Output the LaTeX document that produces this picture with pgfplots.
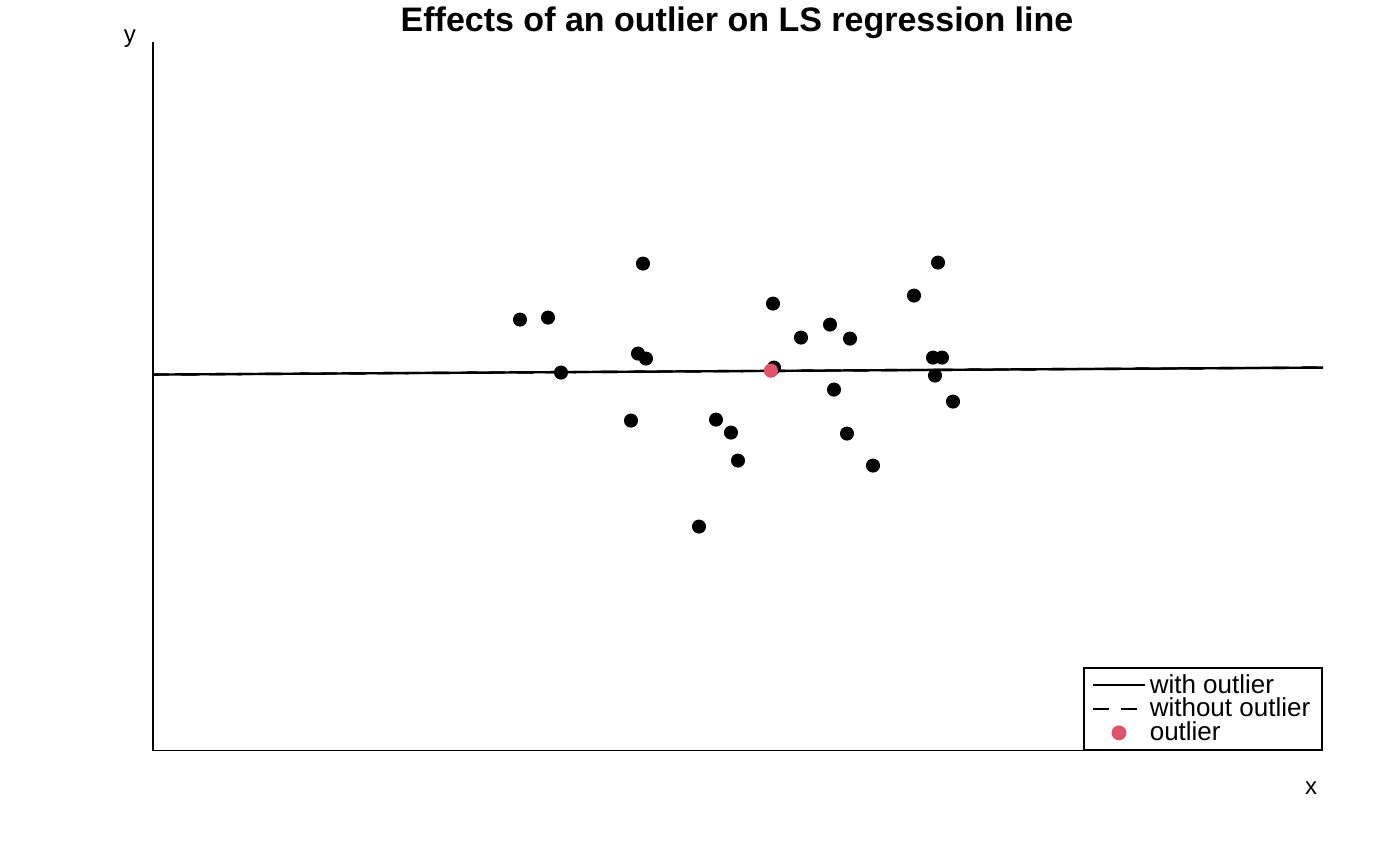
\documentclass[border=0pt]{standalone}
\usepackage{pgfplots}
\pgfplotsset{compat=1.18}
\usepackage{fontspec}
\setmainfont{Liberation Sans}
\pgfplotsset{dotlegend/.style={legend image code/.code={\fill[#1] (0.45cm,0cm) circle (3.3pt);}},
 linelegend/.style={legend image code/.code={\draw[#1] (0cm,0cm) -- (0.9cm,0cm);}}}
\begin{document}
\begin{tikzpicture}
\begin{axis}[scale only axis, width=585pt, height=354.5pt,
 xmin=153, xmax=1323, ymin=117, ymax=826, clip=false,
 axis x line=bottom, axis y line=left, axis line style={-, thick},
 xtick=\empty, ytick=\empty,
 legend style={at={(axis cs:1323,117)}, anchor=south east, draw=black, thick, font=\fontsize{13}{13}\selectfont, row sep=-3pt, inner xsep=4pt, inner ysep=1pt, legend cell align=left}]
\path (axis cs:0,0) rectangle (axis cs:1400,866);
\addplot[black, very thick, linelegend] coordinates {(153,493) (1323,500)};
\addlegendentry{with outlier}
\addplot[black, very thick, dash pattern=on 8pt off 6pt, linelegend] coordinates {(153,493) (1323,500)};
\addlegendentry{without outlier}
\addplot[only marks, mark=*, mark size=3.3pt, color={rgb,255:red,223;green,83;blue,107}, dotlegend] coordinates {(771,497)};
\addlegendentry{outlier}
\addplot[only marks, mark=*, mark size=3.3pt, black, forget plot] coordinates {
(520,548)(548,550)(561,495)(643,604)(638,514)(646,509)(631,447)(699,341)(716,448)(731,435)(738,407)(773,564)(774,500)(801,530)(830,543)(850,529)(834,478)(847,434)(873,402)(914,572)(938,605)(933,510)(942,510)(935,492)(953,466)};
\addplot[only marks, mark=*, mark size=3.3pt, color={rgb,255:red,223;green,83;blue,107}, forget plot] coordinates {(771,497)};
\node[font=\bfseries\fontsize{17}{17}\selectfont] at (axis cs:737,845) {Effects of an outlier on LS regression line};
\node[font=\fontsize{12}{12}\selectfont] at (axis cs:130,829) {y};
\node[font=\fontsize{12}{12}\selectfont] at (axis cs:1311,79) {x};
\end{axis}
\end{tikzpicture}
\end{document}
